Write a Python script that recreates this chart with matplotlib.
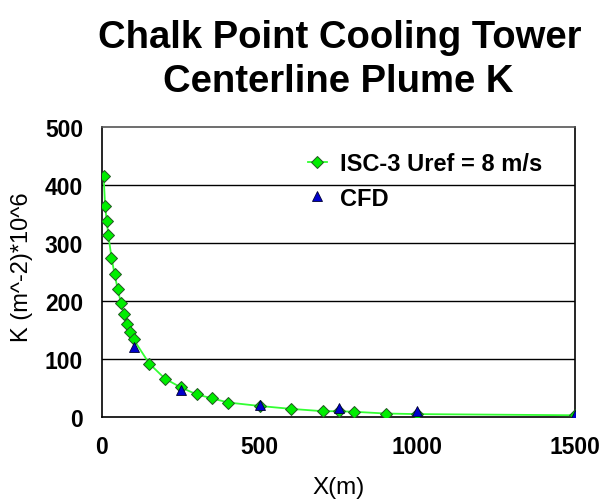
import matplotlib
matplotlib.use("Agg")
import matplotlib.pyplot as plt

plt.rcParams['font.family'] = ['Liberation Sans', 'DejaVu Sans']

isc_x = [5, 10, 15, 20, 30, 40, 50, 60, 70, 80, 90, 100, 150, 200, 250, 300, 350, 400,
         500, 600, 700, 750, 800, 900, 1000, 1500]
isc_y = [416, 363, 338, 314, 275, 246, 220, 197, 177, 160, 147, 134, 92, 66, 51, 39, 32, 25,
         19, 14, 10, 10, 9, 6, 5, 3]
cfd_x = [100, 250, 500, 750, 1000, 1500]
cfd_y = [120, 47, 21, 15, 10, 4]

title_lines = ["Chalk Point Cooling Tower", "Centerline Plume K"]
xlabel = "X(m)"
ylabel = "K (m^-2)*10^6"
xticks = [0, 500, 1000, 1500]
yticks = [0, 100, 200, 300, 400, 500]

fig = plt.figure(figsize=(6.04, 5.02), dpi=100)
ax = fig.add_axes([102/604, 1-418/502, 473/604, 290/502])

for yv in yticks[1:-1]:
    ax.axhline(yv, color='black', lw=1.0, zorder=1)

ax.plot(isc_x, isc_y, color='#33ff33', lw=1.3, marker='D', markersize=6,
        markerfacecolor='#00ee00', markeredgecolor='#225522', markeredgewidth=0.7,
        label='ISC-3 Uref = 8 m/s', zorder=3)
ax.plot(cfd_x, cfd_y, linestyle='none', marker='^', markersize=7.5,
        markerfacecolor='#0000cc', markeredgecolor='#000033', markeredgewidth=0.6,
        label='CFD', zorder=4)

ax.set_xlim(0, 1500)
ax.set_ylim(0, 500)
ax.set_xticks(xticks)
ax.set_yticks(yticks)
ax.tick_params(length=0, labelsize=16.5)
ax.tick_params(axis='x', pad=13)
ax.tick_params(axis='y', pad=13.5)
for lab in ax.get_xticklabels() + ax.get_yticklabels():
    lab.set_fontweight('bold')

ax.spines['left'].set_color('black')
ax.spines['bottom'].set_color('black')
ax.spines['right'].set_color('black')
ax.spines['top'].set_color('#555555')
for s in ax.spines.values():
    s.set_linewidth(1.2)

ax.set_xlabel(xlabel, fontsize=17.5)
ax.set_ylabel(ylabel, fontsize=17)
ax.xaxis.set_label_coords(0.5, (418-477)/290)
ax.yaxis.set_label_coords((33-102)/473, 0.52)

fig.text(340/604, 1-48/502, title_lines[0], fontsize=27.5, fontweight='bold',
         ha='center', va='baseline')
fig.text(338/604, 1-92/502, title_lines[1], fontsize=27.5, fontweight='bold',
         ha='center', va='baseline')

leg = ax.legend(loc='upper left', bbox_to_anchor=(0.435, 0.914), frameon=False,
                prop={'size': 17, 'weight': 'bold'}, handlelength=0.8, handletextpad=0.55,
                labelspacing=0.5, borderaxespad=0, borderpad=0)

fig.savefig('out.png', dpi=100)
